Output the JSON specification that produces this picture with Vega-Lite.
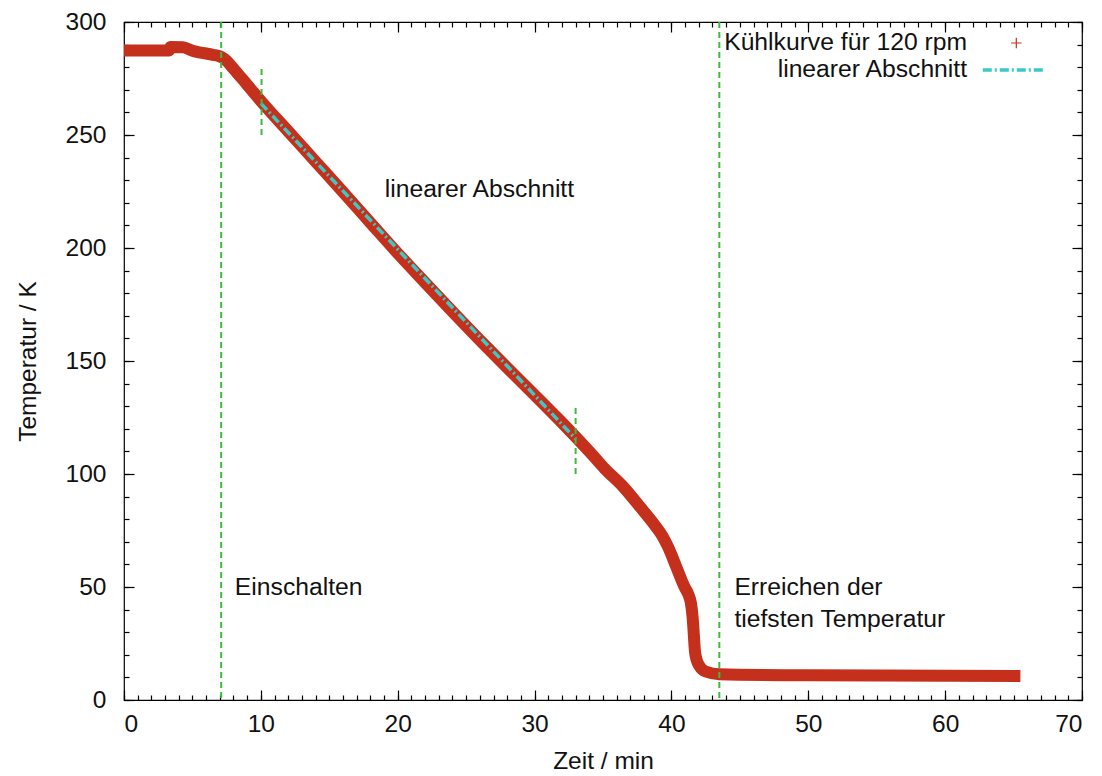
{
  "$schema": "https://vega.github.io/schema/vega-lite/v6.json",
  "width": 958,
  "height": 678,
  "autosize": {"type": "none"},
  "padding": {"left": 124, "top": 22, "right": 20, "bottom": 76},
  "background": "#ffffff",
  "config": {
    "font": "Liberation Sans",
    "view": {"stroke": "#000000", "strokeWidth": 1.2},
    "axis": {
      "grid": false,
      "domain": false,
      "labelFont": "Liberation Sans",
      "labelFontSize": 24.5,
      "labelColor": "#111111",
      "titleFont": "Liberation Sans",
      "titleFontSize": 24.5,
      "titleFontWeight": "normal",
      "titleColor": "#111111",
      "tickColor": "#000000",
      "tickWidth": 1.2
    }
  },
  "datasets": {
    "curve": [
      {"t": 0, "T": 287.4},
      {"t": 3.3, "T": 287.4},
      {"t": 3.4, "T": 288.9},
      {"t": 4.3, "T": 288.8},
      {"t": 5.0, "T": 287.3},
      {"t": 5.5, "T": 286.6},
      {"t": 6.5, "T": 285.5},
      {"t": 7.0, "T": 284.8},
      {"t": 7.4, "T": 283.4},
      {"t": 7.8, "T": 280.8},
      {"t": 8.3, "T": 277.2},
      {"t": 8.9, "T": 273.0},
      {"t": 9.5, "T": 268.6},
      {"t": 10.15, "T": 264.0},
      {"t": 12.0, "T": 251.6},
      {"t": 14.0, "T": 238.2},
      {"t": 16.0, "T": 224.8},
      {"t": 18.0, "T": 211.2},
      {"t": 20.1, "T": 197.0},
      {"t": 22.0, "T": 184.7},
      {"t": 24.0, "T": 171.9},
      {"t": 26.5, "T": 156.2},
      {"t": 28.0, "T": 147.0},
      {"t": 30.0, "T": 135.0},
      {"t": 31.8, "T": 124.0},
      {"t": 33.0, "T": 116.4},
      {"t": 34.2, "T": 108.6},
      {"t": 35.1, "T": 102.5},
      {"t": 36.5, "T": 94.2},
      {"t": 37.7, "T": 85.5},
      {"t": 38.8, "T": 77.2},
      {"t": 39.35, "T": 72.5},
      {"t": 39.75, "T": 67.8},
      {"t": 40.35, "T": 59.0},
      {"t": 40.95, "T": 50.1},
      {"t": 41.25, "T": 46.5},
      {"t": 41.42, "T": 43.0},
      {"t": 41.55, "T": 36.5},
      {"t": 41.65, "T": 27.5},
      {"t": 41.72, "T": 21.5},
      {"t": 41.85, "T": 17.6},
      {"t": 42.05, "T": 15.0},
      {"t": 42.5, "T": 12.6},
      {"t": 43.5, "T": 11.4},
      {"t": 50.0, "T": 10.9},
      {"t": 65.5, "T": 10.6}
    ],
    "fit": [
      {"t": 10, "T": 264.0},
      {"t": 33, "T": 115.5}
    ],
    "bounds": [
      {"t": 10.05, "lo": 250, "hi": 280},
      {"t": 33.0, "lo": 100, "hi": 130}
    ],
    "events": [
      {"t": 7.1},
      {"t": 43.5}
    ],
    "notes": [
      {"t": 8.1, "T": 49.6, "text": "Einschalten"},
      {"t": 19.05, "T": 225.7, "text": "linearer Abschnitt"},
      {"t": 44.6, "T": 49.6, "text": "Erreichen der"},
      {"t": 44.6, "T": 35.4, "text": "tiefsten Temperatur"}
    ],
    "keyText": [
      {"t": 61.6, "T": 290.7, "text": "Kühlkurve für 120 rpm"},
      {"t": 61.6, "T": 278.8, "text": "linearer Abschnitt"}
    ],
    "keyLine": [
      {"t": 62.75, "T": 278.8},
      {"t": 67.3, "T": 278.8}
    ],
    "keySym": [
      {"t": 65.2, "T": 290.7}
    ]
  },
  "layer": [
    {
      "data": {"name": "curve"},
      "mark": {"type": "line", "color": "#c4301c", "strokeWidth": 12, "strokeCap": "butt", "strokeJoin": "round", "interpolate": "monotone"},
      "encoding": {
        "x": {"field": "t", "type": "quantitative", "scale": {"domain": [0, 70], "nice": false, "zero": false},
          "axis": {"orient": "bottom", "values": [0, 10, 20, 30, 40, 50, 60, 70], "tickSize": -10, "labelPadding": 22, "title": "Zeit / min", "titlePadding": 14}},
        "y": {"field": "T", "type": "quantitative", "scale": {"domain": [0, 300], "nice": false, "zero": false},
          "axis": {"orient": "left", "values": [0, 50, 100, 150, 200, 250, 300], "tickSize": -10, "labelPadding": 28, "title": "Temperatur / K", "titlePadding": 25}}
      }
    },
    {
      "data": {"name": "fit"},
      "mark": {"type": "line", "color": "#3cc8c4", "strokeWidth": 3.5, "strokeDash": [9, 3, 2, 3]},
      "encoding": {
        "x": {"field": "t", "type": "quantitative", "scale": {"domain": [0, 70], "nice": false, "zero": false},
          "axis": {"orient": "bottom", "values": [0,1,2,3,4,5,6,7,8,9,10,11,12,13,14,15,16,17,18,19,20,21,22,23,24,25,26,27,28,29,30,31,32,33,34,35,36,37,38,39,40,41,42,43,44,45,46,47,48,49,50,51,52,53,54,55,56,57,58,59,60,61,62,63,64,65,66,67,68,69,70], "tickSize": -5, "labels": false, "title": null}},
        "y": {"field": "T", "type": "quantitative", "scale": {"domain": [0, 300], "nice": false, "zero": false},
          "axis": {"orient": "left", "values": [0,10,20,30,40,50,60,70,80,90,100,110,120,130,140,150,160,170,180,190,200,210,220,230,240,250,260,270,280,290,300], "tickSize": -5, "labels": false, "title": null}}
      }
    },
    {
      "data": {"name": "bounds"},
      "mark": {"type": "rule", "color": "#3dbb3d", "strokeWidth": 2, "strokeDash": [6, 4]},
      "encoding": {
        "x": {"field": "t", "type": "quantitative", "scale": {"domain": [0, 70], "nice": false, "zero": false},
          "axis": {"orient": "top", "values": [0, 10, 20, 30, 40, 50, 60, 70], "tickSize": -10, "labels": false, "title": null}},
        "y": {"field": "lo", "type": "quantitative", "scale": {"domain": [0, 300], "nice": false, "zero": false},
          "axis": {"orient": "right", "values": [0, 50, 100, 150, 200, 250, 300], "tickSize": -10, "labels": false, "title": null}},
        "y2": {"field": "hi"}
      }
    },
    {
      "data": {"name": "notes"},
      "mark": {"type": "text", "align": "left", "baseline": "middle", "font": "Liberation Sans", "fontSize": 24.7, "color": "#111111"},
      "encoding": {
        "x": {"field": "t", "type": "quantitative", "scale": {"domain": [0, 70], "nice": false, "zero": false},
          "axis": {"orient": "top", "values": [0,1,2,3,4,5,6,7,8,9,10,11,12,13,14,15,16,17,18,19,20,21,22,23,24,25,26,27,28,29,30,31,32,33,34,35,36,37,38,39,40,41,42,43,44,45,46,47,48,49,50,51,52,53,54,55,56,57,58,59,60,61,62,63,64,65,66,67,68,69,70], "tickSize": -5, "labels": false, "title": null}},
        "y": {"field": "T", "type": "quantitative", "scale": {"domain": [0, 300], "nice": false, "zero": false},
          "axis": {"orient": "right", "values": [0,10,20,30,40,50,60,70,80,90,100,110,120,130,140,150,160,170,180,190,200,210,220,230,240,250,260,270,280,290,300], "tickSize": -5, "labels": false, "title": null}},
        "text": {"field": "text"}
      }
    },
    {
      "data": {"name": "events"},
      "mark": {"type": "rule", "color": "#3dbb3d", "strokeWidth": 2, "strokeDash": [6, 4]},
      "encoding": {
        "x": {"field": "t", "type": "quantitative", "scale": {"domain": [0, 70], "nice": false, "zero": false}, "axis": null}
      }
    },
    {
      "data": {"name": "keyText"},
      "mark": {"type": "text", "align": "right", "baseline": "middle", "font": "Liberation Sans", "fontSize": 24.7, "color": "#111111"},
      "encoding": {
        "x": {"field": "t", "type": "quantitative", "scale": {"domain": [0, 70], "nice": false, "zero": false}, "axis": null},
        "y": {"field": "T", "type": "quantitative", "scale": {"domain": [0, 300], "nice": false, "zero": false}, "axis": null},
        "text": {"field": "text"}
      }
    },
    {
      "data": {"name": "keyLine"},
      "mark": {"type": "line", "color": "#3cc8c4", "strokeWidth": 3.5, "strokeDash": [9, 3, 2, 3]},
      "encoding": {
        "x": {"field": "t", "type": "quantitative", "scale": {"domain": [0, 70], "nice": false, "zero": false}, "axis": null},
        "y": {"field": "T", "type": "quantitative", "scale": {"domain": [0, 300], "nice": false, "zero": false}, "axis": null}
      }
    },
    {
      "data": {"name": "keySym"},
      "mark": {"type": "point", "shape": "M-1,0L1,0M0,-1L0,1", "filled": false, "stroke": "#c4301c", "strokeWidth": 1.2, "size": 110, "opacity": 1},
      "encoding": {
        "x": {"field": "t", "type": "quantitative", "scale": {"domain": [0, 70], "nice": false, "zero": false}, "axis": null},
        "y": {"field": "T", "type": "quantitative", "scale": {"domain": [0, 300], "nice": false, "zero": false}, "axis": null}
      }
    }
  ],
  "resolve": {"axis": {"x": "independent", "y": "independent"}}
}
